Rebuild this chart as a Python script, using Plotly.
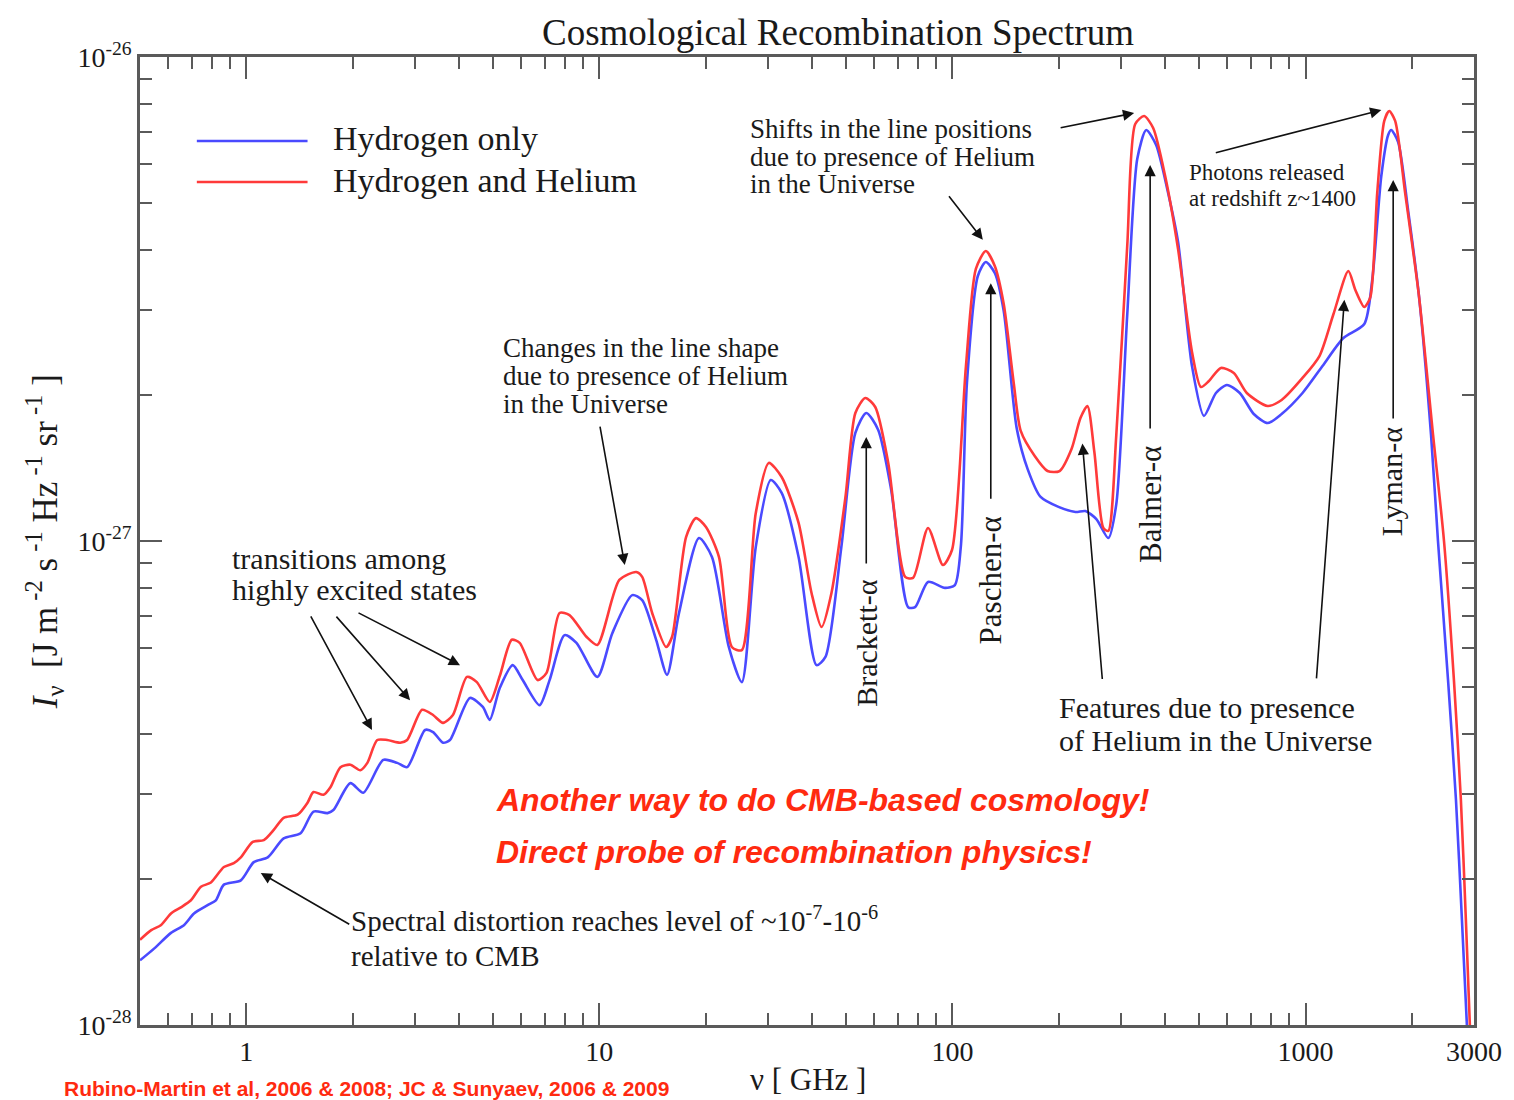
import numpy as np
import plotly.graph_objects as go

# Frequency (GHz) and intensity (units of 1e-28 J m^-2 s^-1 Hz^-1 sr^-1)
nu_h = [0.5, 0.549, 0.612, 0.667, 0.711, 0.779, 0.820, 0.864, 0.965, 1.050, 1.150, 1.276, 1.425,
        1.550, 1.698, 1.765, 1.971, 2.145, 2.443, 2.676, 2.855, 3.209, 3.380, 3.607, 3.774, 4.299,
        4.677, 4.893, 5.223, 5.684, 6.065, 6.770, 7.228, 7.968, 8.612, 9.87, 10.88, 12.39, 13.22,
        14.48, 15.55, 16.81, 19.15, 20.84, 23.26, 25.32, 27.73, 30.57, 32.83, 36.66, 41.21, 43.68,
        48.45, 53.09, 57.02, 61.63, 67.07, 74.90, 78.38, 85.29, 95.2, 101.6, 105.7, 109.9, 118.0,
        124.3, 131.8, 139.7, 152.0, 163.3, 177.7, 199.7, 223.0, 238.0, 255.6, 276.3, 291.1, 312.7,
        333.7, 353.8, 377.5, 408.1, 435.5, 476.9, 515.6, 557.5, 598.6, 651.4, 713.5, 781.2, 855.6,
        980.6, 1117, 1280, 1467, 1545, 1639, 1714, 1748, 1829, 1953, 2097, 2267, 2372, 2533, 2667,
        2773, 2864]
i_h = [1.36, 1.44, 1.55, 1.61, 1.70, 1.77, 1.81, 1.95, 1.99, 2.17, 2.22, 2.43, 2.49,
       2.76, 2.74, 2.78, 3.16, 3.02, 3.53, 3.48, 3.41, 4.07, 4.03, 3.83, 3.88, 4.74,
       4.54, 4.27, 4.97, 5.54, 5.16, 4.58, 5.16, 6.39, 6.16, 5.24, 6.45, 7.73, 7.55,
       6.25, 5.29, 7.10, 10.14, 9.27, 6.04, 5.11, 9.72, 13.37, 12.57, 9.27, 5.54, 5.76,
       9.72, 16.72, 18.39, 16.96, 12.75, 7.30, 7.30, 8.23, 8.00, 8.11, 9.81, 21.21, 35.28,
       37.70, 35.79, 29.87, 17.12, 14.08, 12.33, 11.76, 11.48, 11.53, 11.10, 10.14, 11.92, 29.44,
       61.55, 70.67, 65.79, 52.36, 41.47, 22.99, 18.13, 20.22, 21.01, 20.22, 18.30, 17.53, 18.30,
       20.22, 22.99, 26.27, 28.08, 34.62, 56.77, 69.01, 70.67, 66.74, 48.07, 31.92, 16.56, 10.0, 5.16, 2.92,
       1.65, 1.0]

nu_he = [0.5, 0.538, 0.574, 0.612, 0.653, 0.697, 0.744, 0.794, 0.864, 0.922, 0.965, 1.043, 1.121,
         1.196, 1.276, 1.398, 1.491, 1.550, 1.654, 1.731, 1.848, 1.971, 2.104, 2.202, 2.349, 2.507,
         2.729, 2.855, 3.147, 3.380, 3.607, 3.848, 4.216, 4.498, 4.893, 5.223, 5.647, 5.947, 6.683,
         7.086, 7.714, 8.230, 9.190, 9.87, 11.39, 12.72, 13.22, 14.11, 15.45, 16.07, 17.60, 18.77,
         20.04, 21.81, 23.72, 25.32, 27.73, 30.18, 32.83, 36.66, 39.89, 42.58, 45.43, 49.77, 53.09,
         56.65, 60.44, 65.78, 73.45, 77.37, 85.29, 94.0, 99.7, 109.2, 116.5, 124.3, 131.8, 139.7,
         149.1, 156.1, 171.0, 185.9, 201.1, 217.4, 230.4, 241.1, 252.3, 267.5, 276.3, 291.1, 312.7,
         329.4, 349.2, 370.2, 400.3, 435.5, 476.9, 505.6, 532.6, 575.7, 626.4, 681.8, 781.2, 855.6,
         980.6, 1095, 1200, 1322, 1384, 1467, 1526, 1596, 1671, 1726, 1794, 1915, 2097, 2297, 2467,
         2632, 2754, 2845, 2920]
i_he = [1.50, 1.57, 1.61, 1.70, 1.75, 1.81, 1.93, 1.97, 2.12, 2.16, 2.22, 2.39, 2.41,
        2.53, 2.68, 2.72, 2.88, 3.03, 2.99, 3.10, 3.41, 3.45, 3.36, 3.48, 3.88, 3.88,
        3.83, 3.88, 4.48, 4.37, 4.21, 4.37, 5.24, 5.11, 4.65, 5.26, 6.25, 6.16, 5.16,
        5.34, 7.10, 7.03, 6.34, 6.10, 8.31, 8.63, 8.43, 7.10, 6.04, 6.34, 10.19, 11.15,
        10.69, 9.27, 6.04, 5.95, 11.42, 14.50, 13.56, 10.90, 7.81, 6.64, 7.81, 12.33, 18.39,
        19.75, 18.92, 14.50, 8.43, 8.39, 10.64, 8.92, 9.58, 22.99, 36.48, 39.73, 37.00, 30.88,
        21.21, 16.88, 14.98, 13.95, 13.95, 15.49, 17.96, 19.01, 15.27, 10.64, 10.49, 16.56, 40.88,
        72.70, 75.51, 71.33, 56.77, 40.11, 24.58, 20.80, 21.41, 22.78, 22.24, 20.22, 19.01, 19.56,
        21.72, 24.11, 29.44, 36.13, 33.01, 30.44, 31.92, 52.36, 73.78, 77.33, 73.78, 52.36, 31.92, 16.56, 10.0,
        5.16, 2.92, 1.65, 1.0]

UNIT = 1e-28
series_names = ["Hydrogen only", "Hydrogen and Helium"]
series_colors = ["#4a4aff", "#ff3a3a"]

x_tick_vals = [1, 10, 100, 1000, 3000]
x_tick_text = ["1", "10", "100", "1000", "3000"]
y_tick_vals = [1e-28, 1e-27, 1e-26]
y_tick_text = ["10<sup>-28</sup>", "10<sup>-27</sup>", "10<sup>-26</sup>"]

SERIF = "Liberation Serif, Times New Roman, serif"
SANS = "Liberation Sans, Arial, sans-serif"
AXIS_COL = "#5a5a5a"
TEXT_COL = "#1a1a1a"
RED_TEXT = "#ff2a10"

fig = go.Figure()
for nu, inten, name, col in [(nu_h, i_h, series_names[0], series_colors[0]),
                             (nu_he, i_he, series_names[1], series_colors[1])]:
    fig.add_trace(go.Scatter(
        x=nu, y=[v * UNIT for v in inten], mode="lines", name=name,
        line=dict(color=col, width=2.6, shape="spline", smoothing=0.7),
        showlegend=False))

x_minor = [m * 10.0 ** d for d in range(-1, 4) for m in range(2, 10)]
x_minor = [v for v in x_minor if 0.5 < v < 3000]
y_minor = [m * 10.0 ** d for d in (-28, -27) for m in range(2, 10)]

axis_common = dict(
    type="log", showgrid=False, zeroline=False, showline=True, linecolor=AXIS_COL,
    linewidth=2.5, mirror="allticks", ticks="inside", tickcolor=AXIS_COL, tickwidth=2,
    tickfont=dict(family=SERIF, size=28, color=TEXT_COL),
)
fig.update_xaxes(**axis_common, range=[np.log10(0.5), np.log10(3000)],
                 tickvals=x_tick_vals, ticktext=x_tick_text, ticklen=22,
                 minor=dict(tickvals=x_minor, ticks="inside", ticklen=12,
                            tickcolor=AXIS_COL, tickwidth=2, showgrid=False))
fig.update_yaxes(**axis_common, range=[-28, -26],
                 tickvals=y_tick_vals, ticktext=y_tick_text, ticklen=22,
                 minor=dict(tickvals=y_minor, ticks="inside", ticklen=12,
                            tickcolor=AXIS_COL, tickwidth=2, showgrid=False))


def paper_text(text, x, y, size=24, xanchor="left", yanchor="middle", angle=0,
               family=SERIF, color=TEXT_COL):
    return dict(text=text, x=x, y=y, xref="paper", yref="paper", showarrow=False,
                xanchor=xanchor, yanchor=yanchor, textangle=angle, align="left",
                font=dict(family=family, size=size, color=color))


def text_block(lines, x, ys, size):
    return [paper_text(t, x, y, size=size) for t, y in zip(lines, ys)]


def arrow(nu, inten, ax, ay):
    return dict(x=np.log10(nu), y=np.log10(inten * UNIT), xref="x", yref="y",
                ax=ax, ay=ay, text="", showarrow=True, arrowhead=2, arrowsize=1.4,
                arrowwidth=1.6, arrowcolor="#111111", standoff=0)


annotations = [
    paper_text("Cosmological Recombination Spectrum", 0.523, 1.0258, size=37, xanchor="center"),
    # legend
    paper_text(series_names[0], 0.1435, 0.9153, size=34),
    paper_text(series_names[1], 0.1435, 0.8729, size=34),
    # line labels
    paper_text("Brackett-α", 0.5441, 0.3946, size=30, xanchor="center", angle=-90),
    paper_text("Paschen-α", 0.6375, 0.4597, size=31, xanchor="center", angle=-90),
    paper_text("Balmer-α", 0.7571, 0.5382, size=31, xanchor="center", angle=-90),
    paper_text("Lyman-α", 0.9387, 0.5610, size=30, xanchor="center", angle=-90),
    # red statements
    paper_text("<b><i>Another way to do CMB-based cosmology!</i></b>", 0.2653, 0.2324, size=32,
               family=SANS, color=RED_TEXT),
    paper_text("<b><i>Direct probe of recombination physics!</i></b>", 0.2653, 0.1787, size=32,
               family=SANS, color=RED_TEXT),
    paper_text("<b>Rubino-Martin et al, 2006 & 2008; JC & Sunyaev, 2006 & 2009</b>", -0.0583, -0.0651,
               size=21, family=SANS, color=RED_TEXT),
    # axis titles
    paper_text("<i>I</i><sub>ν</sub>  [J m<sup> -2</sup> s<sup> -1</sup> Hz<sup> -1</sup> sr<sup> -1</sup> ]",
               -0.0710, 0.4990, size=35, xanchor="center", angle=-90),
    paper_text("ν [ GHz ]", 0.5007, -0.0568, size=31, xanchor="center"),
]

annotations += text_block(["Shifts in the line positions", "due to presence of Helium", "in the Universe"],
                          0.4559, [0.9256, 0.8967, 0.8688], 27)
annotations += text_block(["Photons released", "at redshift z~1400"], 0.7848, [0.8802, 0.8543], 23)
annotations += text_block(["Changes in the line shape", "due to presence of Helium", "in the Universe"],
                          0.2706, [0.6994, 0.6705, 0.6415], 27)
annotations += text_block(["transitions among", "highly excited states"], 0.0673, [0.4824, 0.4494], 30)
annotations += text_block(["Features due to presence", "of Helium in the Universe"], 0.6876,
                          [0.3275, 0.2944], 30)
annotations += text_block(["Spectral distortion reaches level of ~10<sup>-7</sup>-10<sup>-6</sup>",
                           "relative to CMB"], 0.1570, [0.1095, 0.0713], 29)

annotations += [
    arrow(121.9, 41.9, -35, -45),
    arrow(327, 76.6, -75, 15),
    arrow(1639, 77.7, -167, 43),
    arrow(57.0, 16.4, 0, 128),
    arrow(128.4, 34.1, 0, 217),
    arrow(363, 59.8, 0, 265),
    arrow(1771, 55.7, 0, 240),
    arrow(233.4, 15.9, 20, 237),
    arrow(1288, 31.5, -28, 380),
    arrow(11.8, 8.92, -25, -140),
    arrow(2.27, 4.07, -62, -115),
    arrow(2.91, 4.69, -75, -85),
    arrow(4.03, 5.54, -103, -53),
    arrow(1.099, 2.06, 90, 52),
]

shapes = [
    dict(type="line", xref="paper", yref="paper", x0=0.0426, x1=0.1256, y0=0.9132, y1=0.9132,
         line=dict(color=series_colors[0], width=2.6)),
    dict(type="line", xref="paper", yref="paper", x0=0.0426, x1=0.1256, y0=0.8709, y1=0.8709,
         line=dict(color=series_colors[1], width=2.6)),
]

fig.update_layout(
    width=1514, height=1100,
    margin=dict(l=140, r=36, t=57, b=75),
    paper_bgcolor="white", plot_bgcolor="white",
    annotations=annotations, shapes=shapes,
    showlegend=False,
)

fig.write_html("out.html")
